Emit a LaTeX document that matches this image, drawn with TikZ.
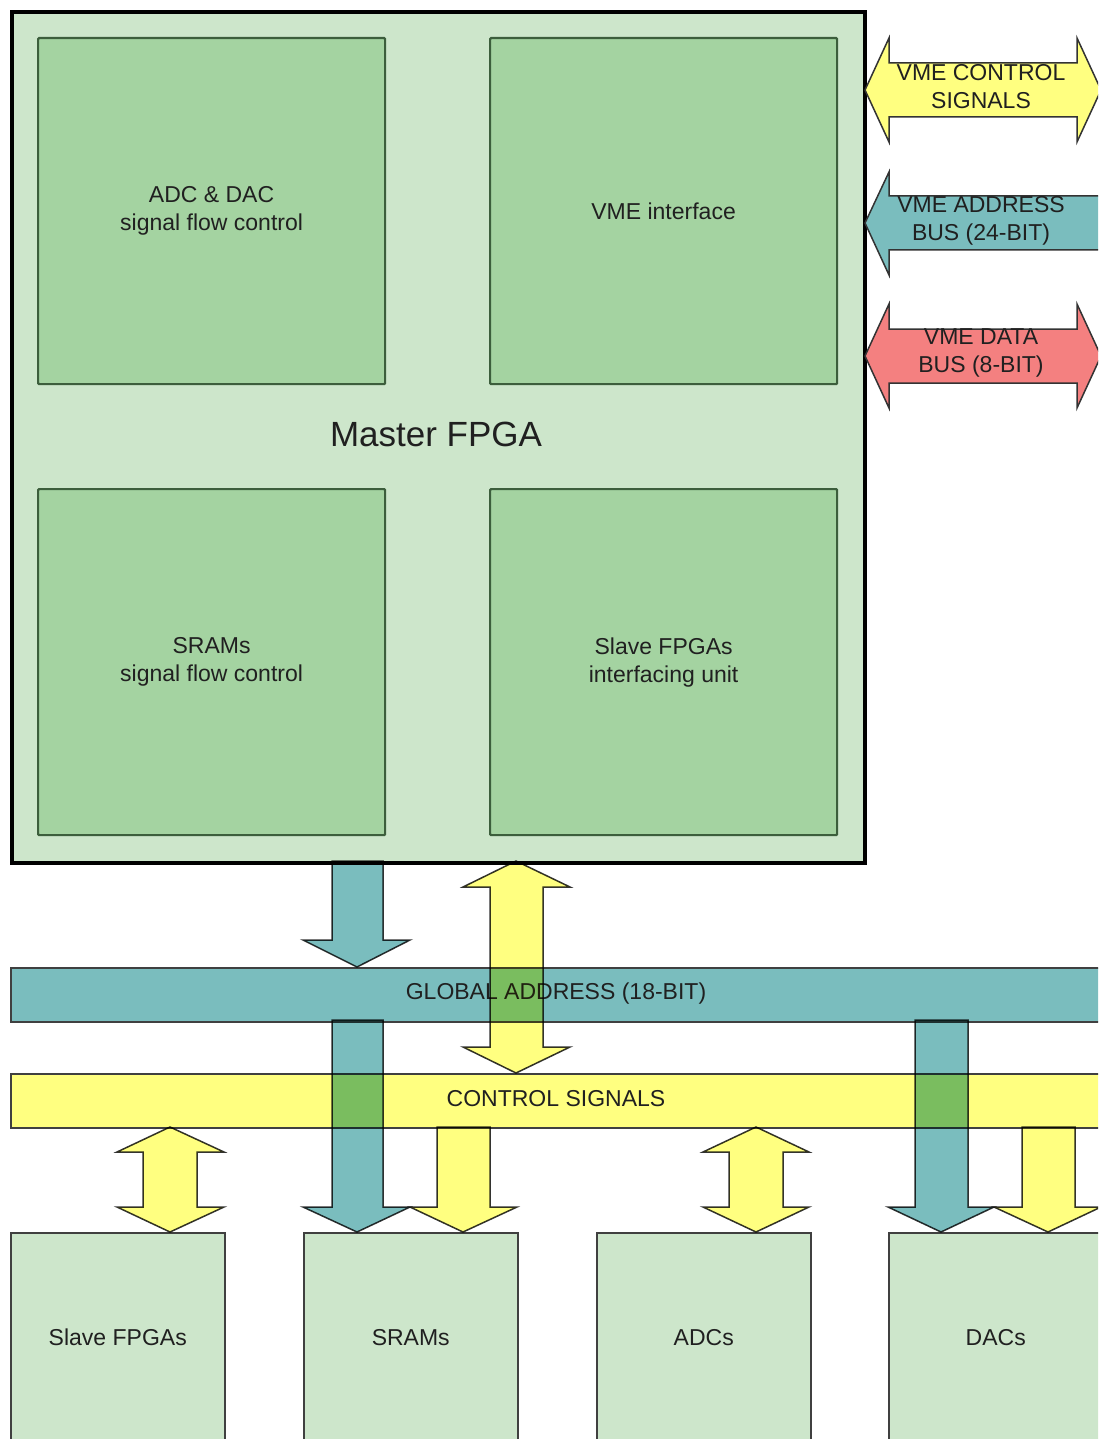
\documentclass[tikz,border=0pt]{standalone}
\usepackage{fontspec}
\setmainfont{Liberation Sans}
\definecolor{lgreen}{HTML}{CDE6CB}
\definecolor{mgreen}{HTML}{A4D3A1}
\definecolor{dgreen}{HTML}{3C5E3C}
\definecolor{busteal}{HTML}{7ABDBE}
\definecolor{busyellow}{HTML}{FFFF80}
\definecolor{busred}{HTML}{F48080}
\definecolor{inkc}{HTML}{202020}
\begin{document}
\begin{tikzpicture}[x=1pt,y=-1pt,
  font=\fontsize{23}{28}\selectfont,
  every node/.style={text=inkc, inner sep=0pt, align=center},
  unitbox/.style={draw=dgreen, line width=2.2pt, fill=mgreen, rounded corners=1pt,
    minimum width=347pt, minimum height=346pt, anchor=north west},
  devbox/.style={draw=black!75, line width=1.5pt, fill=lgreen,
    minimum width=214pt, minimum height=210pt, anchor=north west},
  bar/.style={draw=black!75, line width=1.5pt, minimum width=1090pt, minimum height=54pt, anchor=north west},
  blk/.style={draw=black!80, line width=1.5pt, line join=miter},
]
\useasboundingbox (0,0) rectangle (1098,1439);
\clip (0,0) rectangle (1098,1439);

% Master FPGA
\node[draw=black, line width=4pt, fill=lgreen, minimum width=853pt, minimum height=851pt, anchor=north west] (master) at (10,10) {};
\node[unitbox] (adcdac) at (37,37) {ADC \& DAC\\signal flow control};
\node[unitbox] (vmeif) at (489,37) {VME interface};
\node[unitbox] (sramctl) at (37,488) {SRAMs\\signal flow control};
\node[unitbox] (slaveif) at (489,488) {Slave FPGAs\\interfacing unit};
\node[font=\fontsize{35}{40}\selectfont] (mlabel) at (436,434) {Master FPGA};

% Buses
\node[bar, fill=busteal] (gaddr) at (10,967) {};
\node at (556,994) (gaddrl) {GLOBAL ADDRESS (18-BIT)};
\node[bar, fill=busyellow] (ctrl) at (10,1073) {};
\node at (556,1099) (ctrll) {CONTROL SIGNALS};

% Devices
\node[devbox] (slaves) at (10,1232) {Slave FPGAs};
\node[devbox] (srams) at (303,1232) {SRAMs};
\node[devbox] (adcs) at (596,1232) {ADCs};
\node[devbox] (dacs) at (888,1232) {DACs};

\begin{scope}[blend mode=multiply]
% master -> global address
\draw[blk, fill=busteal] (332,861) -- (383,861) -- (383,940) -- (410,940) -- (357,967) -- (303,940) -- (332,940) -- cycle;
% master <-> control signals
\draw[blk, fill=busyellow] (516,861) -- (570,887) -- (543,887) -- (543,1047) -- (570,1047) -- (516,1073) -- (463,1047) -- (490,1047) -- (490,887) -- (463,887) -- cycle;
% global -> SRAMs
\draw[blk, fill=busteal] (332,1020) -- (383,1020) -- (383,1207) -- (410,1207) -- (357,1232) -- (303,1207) -- (332,1207) -- cycle;
% control -> SRAMs
\draw[blk, fill=busyellow] (437,1127) -- (490,1127) -- (490,1207) -- (517,1207) -- (463,1232) -- (410,1207) -- (437,1207) -- cycle;
% control <-> slave FPGAs
\draw[blk, fill=busyellow] (170,1127) -- (224,1152) -- (197,1152) -- (197,1207) -- (224,1207) -- (170,1232) -- (117,1207) -- (143,1207) -- (143,1152) -- (117,1152) -- cycle;
% control <-> ADCs
\draw[blk, fill=busyellow] (756,1127) -- (809,1152) -- (783,1152) -- (783,1207) -- (809,1207) -- (756,1232) -- (703,1207) -- (729,1207) -- (729,1152) -- (703,1152) -- cycle;
% global -> DACs
\draw[blk, fill=busteal] (915,1020) -- (968,1020) -- (968,1207) -- (994,1207) -- (941,1232) -- (888,1207) -- (915,1207) -- cycle;
% control -> DACs
\draw[blk, fill=busyellow] (1022,1127) -- (1075,1127) -- (1075,1207) -- (1101,1207) -- (1048,1232) -- (994,1207) -- (1022,1207) -- cycle;
\end{scope}

% VME side arrows
\draw[blk, fill=busyellow] (865,90) -- (889,38) -- (889,63) -- (1077,63) -- (1077,38) -- (1101,90) -- (1077,142) -- (1077,117) -- (889,117) -- (889,142) -- cycle;
\node (vmectl) at (981,87) {VME CONTROL\\SIGNALS};
\draw[blk, fill=busteal] (865,223) -- (889,172) -- (889,196) -- (1102,196) -- (1102,250) -- (889,250) -- (889,275) -- cycle;
\node (vmeaddr) at (981,221) {VME ADDRESS\\BUS (24-BIT)};
\draw[blk, fill=busred] (865,356) -- (889,304) -- (889,329) -- (1077,329) -- (1077,304) -- (1101,356) -- (1077,408) -- (1077,383) -- (889,383) -- (889,408) -- cycle;
\node (vmedata) at (981,353) {VME DATA\\BUS (8-BIT)};
\end{tikzpicture}
\end{document}
